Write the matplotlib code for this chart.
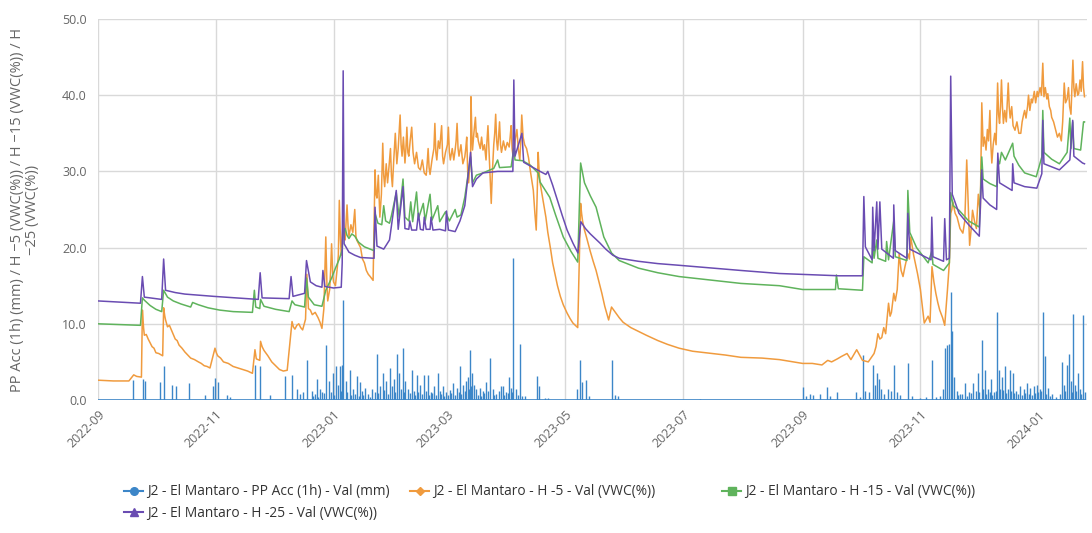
import numpy as np
import matplotlib
matplotlib.use("Agg")
import matplotlib.pyplot as plt
from matplotlib.lines import Line2D

plt.rcParams['font.family'] = ['Open Sans', 'DejaVu Sans']

START = np.datetime64('2022-09-01T00:00')

# ---- data: day offsets from START and readings ----
pp_day = [18.1, 23.3, 24.3, 32.1, 34.2, 38.3, 40.4, 47.1, 55.4, 59.6, 60.6, 62.1, 66.8, 68.4,
          81.3, 83.9, 89.1, 96.8, 100.5, 103.1, 104.6, 106.2, 108.2, 110.8, 113.4, 115.0, 116.0,
          118.1, 119.6, 121.7, 123.3, 124.3, 125.3, 126.4, 127.1, 128.4, 130.5, 132.0, 134.1,
          135.7, 136.7, 138.3, 139.8, 141.9, 144.5, 146.0, 147.6, 149.1, 151.2, 152.3, 153.3,
          154.8, 155.9, 157.9, 159.0, 160.5, 162.6, 163.6, 165.2, 166.8, 168.8, 170.9, 172.4,
          174.0, 176.1, 177.1, 178.7, 180.2, 182.3, 183.8, 185.9, 187.5, 189.0, 190.6, 191.6,
          192.6, 193.7, 194.7, 195.8, 197.8, 199.4, 200.9, 203.0, 204.6, 206.1, 207.7, 208.7,
          209.7, 211.3, 212.8, 213.9, 215.2, 216.5, 218.5, 221.1, 227.3, 228.4, 231.5, 233.0,
          248.0, 249.6, 250.6, 252.7, 254.3, 266.2, 267.7, 269.3, 311.8,
          365.1, 366.7, 368.7, 370.3, 373.9, 377.5, 379.0, 382.7, 392.5, 394.6, 396.2, 397.2,
          399.3, 401.3, 402.4, 403.4, 404.4, 405.5, 407.0, 409.1, 410.7, 412.2, 413.8, 415.3,
          419.5, 421.6, 425.7, 428.8, 431.9, 434.0, 436.0, 437.6, 438.6, 439.7, 440.7, 441.7,
          442.5, 443.3, 444.8, 446.4, 449.0, 451.0, 453.1, 454.6, 455.6, 457.8, 459.4, 460.9,
          462.5, 464.0, 465.6, 466.6, 468.2, 469.7, 471.3, 472.3, 473.8, 475.4, 477.5, 479.5,
          481.1, 482.6, 484.7, 486.3, 487.8, 489.4, 490.4, 492.0, 494.0, 496.1, 499.2, 500.3,
          501.8, 502.9, 503.9, 505.0, 506.0, 507.6, 508.6, 510.1, 511.1,
          111.5, 112.3, 114.2, 117.0, 120.5, 122.5, 125.8, 129.2, 131.2, 133.0, 135.0, 137.5,
          140.8, 143.3, 145.2, 148.3, 150.3, 153.9, 156.7, 158.4, 161.5, 164.3, 166.0, 167.6,
          169.8, 171.7, 173.2, 175.2, 177.8, 179.4, 181.2, 183.0, 184.7, 187.0, 188.2, 190.0,
          192.1, 193.2, 196.8, 198.6, 200.1, 202.0, 205.3, 210.5, 212.2, 214.5, 217.5, 219.5,
          445.6, 447.5, 450.0, 452.0, 456.5, 458.6, 460.2, 461.8, 463.2, 465.0, 467.4, 469.0,
          470.5, 473.0, 474.6, 476.4, 478.5, 480.3, 482.0, 483.6, 485.5, 487.0, 488.6, 491.2,
          493.0, 498.4, 501.0, 504.4, 506.8, 509.3]
pp_val = [2.6, 2.7, 2.5, 2.3, 4.5, 2.0, 1.8, 2.2, 0.6, 1.8, 2.9, 2.4, 0.7, 0.4,
          4.6, 4.4, 0.6, 3.1, 3.3, 1.5, 0.8, 1.0, 5.2, 1.2, 2.8, 1.4, 1.0,
          7.2, 2.5, 3.5, 4.4, 2.0, 4.4, 4.6, 13.1, 2.5, 3.9, 1.5, 3.2,
          2.3, 1.2, 1.6, 0.8, 1.5, 6.1, 1.8, 3.5, 2.5, 4.2, 1.8, 2.8,
          6.1, 3.5, 6.8, 2.5, 1.5, 3.9, 1.2, 3.3, 2.0, 3.3, 3.3, 1.0,
          1.8, 3.5, 1.2, 1.8, 1.0, 1.3, 2.2, 1.6, 4.4, 2.0, 2.5, 3.0,
          6.6, 3.5, 2.0, 1.4, 1.6, 1.2, 2.4, 5.5, 1.5, 0.8, 1.2, 1.8,
          1.8, 1.0, 3.0, 1.6, 18.7, 1.5, 7.4, 0.5, 3.1, 1.8, 0.3, 0.2,
          1.5, 5.2, 2.4, 2.6, 0.5, 5.2, 0.6, 0.5, 0.1,
          1.7, 0.5, 0.8, 0.6, 0.8, 1.7, 0.5, 1.0, 1.0, 0.4, 5.9, 1.2,
          1.0, 4.6, 2.0, 3.5, 2.8, 1.5, 0.8, 1.5, 1.2, 4.6, 1.0, 0.6,
          4.9, 0.5, 0.3, 0.4, 5.2, 0.4, 0.5, 1.5, 6.8, 7.2, 7.4, 14.2,
          9.0, 3.0, 1.2, 0.8, 2.2, 1.0, 2.2, 1.2, 3.5, 7.9, 3.9, 1.5,
          2.8, 1.0, 11.6, 4.0, 3.0, 4.4, 1.5, 4.0, 3.5, 1.2, 1.8, 1.5,
          2.2, 1.6, 1.8, 2.0, 1.5, 11.6, 5.8, 1.6, 0.8, 0.4, 5.0, 2.0,
          4.6, 6.1, 2.5, 11.3, 2.0, 3.5, 1.5, 11.1, 1.0,
          0.5, 0.8, 0.4, 0.9, 1.0, 0.6, 1.2, 1.0, 0.7, 0.8, 0.5, 0.6,
          0.4, 1.1, 0.9, 1.3, 0.8, 1.0, 1.4, 1.1, 0.9, 0.7, 1.0, 0.8,
          1.2, 0.6, 0.9, 0.7, 0.8, 0.5, 0.7, 0.9, 0.6, 1.0, 0.8, 1.2,
          1.5, 1.8, 0.7, 0.5, 0.9, 1.2, 0.6, 0.7, 0.9, 1.1, 0.6, 0.5,
          0.6, 0.8, 0.5, 0.9, 1.0, 1.5, 0.8, 1.0, 0.6, 1.2, 1.5, 1.3,
          0.9, 1.2, 0.9, 0.8, 0.7, 0.9, 0.8, 0.6, 0.9, 1.0, 1.2, 0.8,
          0.5, 0.8, 1.2, 1.0, 1.2, 0.8]

h5_day = [0, 8, 16, 18.5, 20, 22.5, 23, 23.6, 24, 25, 26, 27, 28, 29, 30, 31.5, 33.5, 34, 34.6,
          35, 36, 37, 38, 39, 40, 41, 42, 43.5, 45, 46.5, 48, 50, 52, 53.5, 55, 56.5, 58, 60.6,
          61.3, 62, 63.5, 65, 67.5, 70, 72.5, 75, 77.5, 80, 81.3, 82, 83.8, 84.2, 85, 86, 88,
          90, 92, 94, 96, 98, 100.5, 101.2, 102, 103, 104, 105, 106, 107.5, 108.2, 109, 110,
          111, 112.5, 114, 115, 116, 117, 118, 118.6, 119, 120, 120.5, 121, 121.6, 122, 123,
          124, 124.5, 125, 125.6, 126, 127, 127.6, 128, 129, 129.6, 130, 131, 132, 133, 133.6,
          134, 135, 136, 137, 138, 139, 140, 141, 142.5,
          143.5, 144, 144.5, 145.2, 146, 146.8, 147.5, 148, 148.5, 149.3, 150, 150.7, 151.5,
          152, 152.5, 153.2, 154, 154.8, 155.5, 156.5, 157, 157.5, 158.2, 159, 159.5, 160,
          160.5, 161, 161.7, 162.5, 163.2, 164, 165, 166, 167, 168, 169, 170, 170.5, 171,
          171.5, 172, 173, 174, 174.5, 175, 175.5, 176.3, 177, 177.5, 178, 178.5, 179, 180,
          181, 181.5, 182, 182.5, 183.5, 184.3, 185, 185.5, 186, 186.5, 187, 188, 189, 190,
          190.5, 191, 191.5, 192, 192.5, 193, 193.2, 193.7, 194, 194.7, 195.5, 196, 196.5,
          197, 198, 198.7, 199.4, 200.2, 201, 201.5, 202, 202.5, 203, 203.7, 204.3, 205,
          205.5, 206, 206.5, 207, 207.5, 208, 208.5, 209, 210, 211, 212, 213, 213.5, 214,
          214.5, 215, 216, 217, 217.7, 218.5, 219, 219.5, 220.2, 221, 222, 223, 224, 225.5,
          226.3, 227, 227.5, 228, 228.5, 229, 230, 231, 232, 233, 234.5, 235.5, 237, 238,
          239.5, 241, 243, 244.5, 246, 248.5, 250, 250.5, 251, 252, 253, 255, 256.5, 258,
          259.5, 261, 262.5, 264.5, 266, 268, 270, 272, 276, 280, 284, 290, 295, 301, 308,
          318, 325, 333, 344, 353, 360, 365, 370, 375, 378, 380, 383, 385, 388, 390, 393, 396,
          399, 402, 403, 404, 405, 406, 407, 408, 409.5, 410.3, 411, 412.2, 413, 414, 415,
          416, 417, 418, 419.5, 420.3, 421, 422.5, 424.5, 426, 428, 430, 431, 432, 433, 434,
          435, 436, 437.5, 438.6, 440, 441, 441.7, 442.3, 442.8, 444, 445, 446.5, 448, 449,
          450, 451, 451.5, 452.5, 453, 454, 455, 456, 457, 457.8, 458.3, 458.5, 459.2, 460,
          460.7, 461.3, 462, 462.5, 463, 463.7, 464.5, 465.2, 466, 466.5, 467, 467.5, 468,
          468.5, 469, 469.7, 470.5, 471.5, 472, 472.5, 473.3, 474, 475, 476, 477, 478, 478.7,
          479.5, 480, 480.7, 481.5, 482, 482.7, 483.5, 484, 485, 485.7, 486.5, 487, 488,
          488.7, 489.4, 490, 490.7, 491.5, 492, 492.8, 493.5, 494, 495, 496, 497, 498, 499,
          499.7, 500.5, 501.2, 502, 502.7, 503.3, 504, 505, 505.5, 506, 506.7, 507.5, 508,
          508.7, 509.3, 510, 510.5, 511]
h5_val = [2.6, 2.5, 2.5, 3.3, 3.1, 3.0, 11.8, 9.5, 8.5, 8.6, 8.0, 7.5, 7.0, 6.8, 6.2, 6.1, 5.8,
          12.1, 11.0, 10.5, 9.6, 9.8, 9.2, 8.6, 8.0, 7.8, 7.2, 6.8, 6.3, 5.9, 5.5, 5.3, 5.0,
          4.8, 4.5, 4.4, 4.2, 6.8, 6.2, 5.8, 5.5, 5.0, 4.8, 4.4, 4.2, 4.0, 3.8, 3.5, 6.6, 5.4,
          5.2, 7.7, 7.0, 6.5, 5.8, 5.0, 4.5, 4.0, 3.8, 3.9, 10.3, 9.6, 9.3, 9.8, 10.0, 9.5,
          9.2, 10.6, 16.5, 12.0, 11.8, 11.2, 11.5, 10.8, 10.2, 9.4, 12.0, 21.4, 15.0, 13.0,
          14.5, 17.0, 20.5, 16.5, 15.5, 15.0, 17.5, 19.0, 26.2, 21.0, 19.0, 23.5, 21.5, 21.0,
          25.6, 22.5, 21.5, 23.0, 22.0, 25.0, 21.5, 21.0, 20.5, 20.0, 18.5, 18.0, 17.0, 16.5,
          16.2, 15.7,
          30.2, 27.0, 26.5, 29.5, 24.0, 27.0, 33.7, 29.5, 28.0, 31.0, 28.5, 30.5, 33.0,
          29.5, 28.0, 31.5, 35.0, 31.0, 33.0, 37.4, 33.5, 32.0, 34.5, 31.1, 33.0, 35.8,
          32.5, 32.0, 34.0, 35.8, 32.5, 31.0, 32.5, 30.5, 30.2, 31.5, 29.8, 29.5, 31.0, 33.0,
          30.5, 29.6, 31.5, 33.0, 36.3, 32.5, 31.5, 34.0, 33.0, 34.5, 36.0, 32.0, 31.0, 32.5,
          33.5, 35.8, 32.5, 31.5, 33.0, 31.5, 32.8, 34.0, 36.3, 33.0, 32.0, 33.5, 31.0, 31.9,
          33.0, 34.5, 30.0, 28.5, 30.5, 31.0, 39.8, 34.5, 32.8, 35.0, 37.1, 34.5, 35.0,
          34.0, 33.0, 34.5, 32.8, 33.5, 31.5, 34.0, 36.0, 33.0, 30.0, 25.8, 30.0, 33.5,
          35.0, 37.5, 34.0, 32.8, 34.5, 36.5, 33.5, 32.5, 34.0, 32.8, 33.8, 33.2, 34.5, 36.0,
          33.0, 32.0, 34.0, 35.5, 33.0, 31.5, 34.0, 37.4, 34.5, 33.5, 33.0, 31.8, 30.0, 27.5,
          24.5, 22.3, 27.0, 32.5, 30.0, 28.5, 27.0, 25.5, 24.0, 22.0, 19.7, 18.0, 16.2, 15.0,
          13.6, 12.5, 11.4, 10.7, 10.1, 9.5, 25.8, 24.5, 23.5, 22.3, 21.4, 19.5, 18.2, 17.0,
          15.5, 14.0, 12.3, 10.5, 12.2, 11.5, 10.8, 10.2, 9.5, 9.0, 8.5, 7.8, 7.3, 6.8, 6.4,
          6.1, 5.9, 5.6, 5.5, 5.3, 5.0, 4.8, 4.8, 4.6, 5.2, 5.0, 5.4, 5.7, 6.1, 5.3, 6.6, 5.2,
          5.0, 6.1, 7.0, 8.7, 8.0, 8.2, 9.5, 8.7, 12.7, 11.0, 11.5, 14.0, 13.0, 14.5, 19.2,
          17.0, 16.2, 17.5, 19.2, 18.5, 21.4, 19.0, 16.6, 14.5, 10.1, 11.0, 10.2, 17.5, 15.5,
          14.0, 12.8, 11.8, 10.8, 9.8, 14.4, 18.0, 24.5, 25.0, 26.0, 24.5, 24.0, 22.5, 21.9,
          23.5, 31.5, 24.0, 20.3, 23.0, 24.9, 23.5, 22.5, 27.0, 24.5, 39.0, 35.0, 33.3, 34.5,
          32.8, 35.5, 34.0, 38.0, 33.5, 31.1, 33.5, 35.0, 33.5, 41.6, 37.5, 36.3, 38.5, 42.0,
          38.5, 36.3, 38.0, 36.5, 41.6, 38.5, 37.0, 38.5, 36.0, 35.4, 36.5, 35.0, 35.0, 36.5,
          37.5, 38.0, 37.0, 38.5, 40.0, 38.0, 39.5, 39.0, 40.5, 39.0, 40.5, 39.8, 41.0, 40.0,
          44.2, 39.8, 41.0, 39.5, 40.2, 38.5, 38.0, 37.1, 36.5, 35.5, 34.5, 35.0, 34.0, 36.5,
          41.6, 39.0, 39.5, 41.0, 38.5, 37.5, 44.6, 41.0, 39.8, 41.5, 40.0, 40.2, 42.0, 40.5,
          44.4, 41.0, 39.8]

h15_day = [0, 22, 23, 24, 27, 30, 33, 34, 36, 39, 43, 48, 49, 52, 57, 63, 70, 80, 81, 81.7,
           83.8, 84.2, 86, 92, 99, 100.5, 102, 107, 108, 109, 112, 116, 118, 121, 123, 125,
           126.5, 127, 128, 129, 130, 131.5, 133, 135, 138, 142, 143, 143.5, 145, 147, 148,
           149, 151, 152, 154.5, 156, 158, 159, 161, 162, 163, 165, 166, 168.5, 169.5, 172,
           173, 176, 177, 180, 182, 185, 186, 188, 190, 193, 194, 196, 199.4, 205, 207, 208,
           214, 215.4, 216, 220, 224, 228, 229, 231, 234, 237, 241, 245, 248.5, 250, 252, 255,
           258, 262, 266, 270, 280, 290, 301, 333, 353, 365, 382, 382.5, 383.5, 396, 396.7,
           401, 401.3, 402, 403.4, 404, 408, 408.5, 409.5, 412.2, 413, 419, 419.5, 420.5, 424,
           430, 431.9, 432.5, 438, 441, 441.7, 443, 446, 451, 456.5, 457.8, 458.5, 462, 465.5,
           466.1, 467, 468, 470, 473.8, 474.5, 477, 480, 486, 488.9, 489.4, 490, 494, 498,
           502, 503.4, 504, 504.9, 505.5, 509, 510.5, 511]
h15_val = [10.0, 9.8, 13.4, 13.1, 12.4, 11.9, 11.6, 14.4, 13.5, 13.0, 12.6, 12.2, 12.8, 12.5,
           12.1, 11.8, 11.6, 11.5, 14.4, 12.2, 12.0, 13.2, 12.3, 11.9, 11.6, 13.0, 12.5, 12.2,
           16.0, 13.5, 12.5, 12.3, 14.4, 16.0, 17.3, 18.5, 19.7, 22.0, 22.5, 21.6, 21.2, 21.8,
           21.5, 20.7, 20.1, 19.7, 19.6, 24.5, 23.2, 23.0, 25.5, 23.5, 23.2, 24.2, 27.2, 24.0,
           29.0, 24.0, 23.5, 26.0, 23.4, 27.3, 23.8, 25.8, 23.5, 27.0, 23.6, 25.5, 23.4, 24.7,
           23.5, 25.0, 24.0, 24.3, 26.6, 31.9, 28.5, 29.5, 29.8, 30.4, 31.5, 30.5, 30.6, 33.0,
           31.5, 31.4, 30.8, 29.8, 28.6, 27.8, 26.6, 24.3, 21.4, 19.5, 18.1, 31.1, 28.5, 26.8,
           25.3, 21.4, 19.3, 18.3, 17.3, 16.7, 16.2, 15.3, 15.0, 14.5, 14.5, 16.4, 14.6,
           14.4, 18.8, 18.0, 21.0, 18.6, 21.0, 18.6, 18.2, 20.8, 18.4, 23.5, 18.8, 18.3, 27.5,
           22.0, 20.0, 18.0, 19.5, 17.8, 17.0, 18.0, 27.2, 25.5, 24.9, 23.5, 22.7, 31.9, 29.0,
           28.4, 28.0, 31.5, 31.0, 32.5, 31.5, 33.7, 32.0, 30.8, 29.8, 29.3, 31.9, 38.0, 32.5,
           31.6, 31.0, 32.5, 37.0, 33.0, 36.5, 33.0, 32.8, 36.5, 36.5]

h25_day = [0, 22, 23, 24, 33, 34, 35, 40, 45, 60, 83, 84, 85, 99, 100, 101, 107, 108, 110,
           113, 116, 116.5, 117.5, 122, 126, 126.5, 127, 127.5, 130, 133, 136, 143, 143.5,
           144.5, 148, 151, 154.5, 155.5, 158, 159, 161, 161.5, 162.5, 165, 166, 167, 168.5,
           169, 170, 172, 172.5, 173.5, 177, 180, 180.5, 181.5, 185, 187.5, 190, 193, 194, 196,
           199.4, 207, 214.9, 215.4, 216, 219.6, 220.5, 229, 232, 233, 235.5, 238, 240.5, 243,
           246, 248.6, 250.1, 252.5, 255, 260, 263, 266.7, 270, 280, 290, 300, 333, 353, 384,
           396, 396.7, 397.5, 401, 401.3, 402, 403.4, 404, 405, 406, 412, 412.2, 413, 419,
           419.5, 420.5, 431.5, 431.9, 432.5, 438, 438.6, 439.5, 441, 441.7, 442.5, 446, 451,
           456.5, 457.8, 458.5, 462, 465.5, 466.1, 467, 473.5, 473.8, 474.5, 480, 486.3, 488.9,
           489.4, 490, 498, 503.4, 504.9, 505.5, 510, 511]
h25_val = [13.0, 12.7, 16.2, 13.5, 13.2, 18.5, 14.4, 14.1, 13.9, 13.6, 13.2, 16.7, 13.4, 13.3,
           16.2, 13.6, 14.0, 18.3, 15.5, 15.0, 14.8, 17.0, 14.9, 14.7, 14.8, 18.0, 43.2, 20.5,
           19.4, 19.0, 18.7, 18.6, 25.3, 20.2, 19.8, 21.0, 27.5, 22.4, 28.0, 22.5, 22.4, 23.5,
           22.3, 22.3, 24.5, 22.4, 22.3, 24.0, 22.4, 22.4, 24.0, 22.3, 22.4, 22.2, 24.8, 22.3,
           22.1, 23.5, 25.5, 32.5, 28.0, 29.0, 29.8, 30.0, 30.0, 42.0, 32.0, 35.0, 31.2, 30.0,
           29.6, 30.0, 28.2, 26.2, 24.2, 22.3, 20.6, 19.3, 23.4, 22.5, 21.8, 20.6, 19.8, 19.0,
           18.6, 18.2, 17.9, 17.7, 17.0, 16.6, 16.3, 16.3, 26.7, 20.1, 18.4, 25.3, 19.6, 26.0,
           19.8, 26.0, 19.8, 18.6, 25.6, 19.6, 18.6, 24.5, 19.8, 18.4, 24.0, 18.8, 18.2, 23.8,
           18.4, 18.6, 42.5, 27.0, 24.5, 23.0, 21.5, 30.2, 26.5, 25.6, 25.0, 32.4, 28.5, 27.5,
           31.0, 28.5, 28.0, 27.8, 29.7, 36.7, 31.0, 30.2, 31.5, 36.7, 32.0, 31.1, 31.0]

y_ticks = [0, 10, 20, 30, 40, 50]
x_ticks = ['2022-09', '2022-11', '2023-01', '2023-03', '2023-05', '2023-07',
           '2023-09', '2023-11', '2024-01']

labels = ['J2 - El Mantaro - PP Acc (1h) - Val (mm)',
          'J2 - El Mantaro - H -5 - Val (VWC(%))',
          'J2 - El Mantaro - H -15 - Val (VWC(%))',
          'J2 - El Mantaro - H -25 - Val (VWC(%))']
colors = ['#3c86c8', '#f09b3e', '#5fb35c', '#6a4cb2']
markers = ['o', 'D', 's', '^']


def to_dates(days):
    mins = np.round(np.asarray(days, dtype=float) * 1440).astype('timedelta64[m]')
    return START + mins


fig = plt.figure(figsize=(10.92, 5.33), dpi=100)
ax = fig.add_axes([98 / 1092, 1 - 400 / 533, (1087 - 98) / 1092, (400 - 19) / 533])

# precipitation: baseline plus vertical spikes
ax.plot(to_dates([0, 511.1]), [0, 0], color=colors[0], lw=1.2, zorder=3)
ax.vlines(to_dates(pp_day), 0, pp_val, color=colors[0], lw=1.0, zorder=3)

for d, v, c in [(h5_day, h5_val, colors[1]), (h15_day, h15_val, colors[2]),
                (h25_day, h25_val, colors[3])]:
    ax.plot(to_dates(d), v, color=c, lw=1.1, zorder=4)

ax.set_xlim(to_dates([0])[0], to_dates([512.3])[0])
ax.set_ylim(0, 50)
ax.set_yticks(y_ticks)
ax.set_yticklabels([f'{v:.1f}' for v in y_ticks])
ax.set_xticks([np.datetime64(t + '-01T00:00') for t in x_ticks])
ax.set_xticklabels(x_ticks, rotation=45, ha='right', rotation_mode='anchor')

ax.grid(True, color='#d9d9d9', lw=1.0)
ax.set_axisbelow(True)
for s in ax.spines.values():
    s.set_visible(False)
ax.tick_params(axis='both', length=0, colors='#666666', labelsize=9.0)
ax.tick_params(axis='y', pad=8)
ax.tick_params(axis='x', pad=6)

fig.text(25 / 1092, 1 - 210 / 533,
         'PP Acc (1h) (mm) / H \u22125 (VWC(%)) / H \u221215 (VWC(%)) / H\n\u221225 (VWC(%))',
         rotation=90, ha='center', va='center', multialignment='center',
         color='#666666', fontsize=10.5, linespacing=1.05)

# legend entries, each placed on its own
legend_pos = [(124, 492), (410, 492), (722, 492), (124, 513)]
for lab, c, m, (px, py) in zip(labels, colors, markers, legend_pos):
    h = Line2D([], [], color=c, lw=1.5, marker=m, markersize=5.5 if m != 'D' else 4.5,
               markeredgecolor=c, markerfacecolor=c)
    fig.legend([h], [lab], loc='center left', bbox_to_anchor=(px / 1092, 1 - py / 533),
               frameon=False, fontsize=9.9, handlelength=1.4, handletextpad=0.3,
               borderaxespad=0, borderpad=0, labelcolor='#333333')

fig.savefig('out.png', dpi=100)
